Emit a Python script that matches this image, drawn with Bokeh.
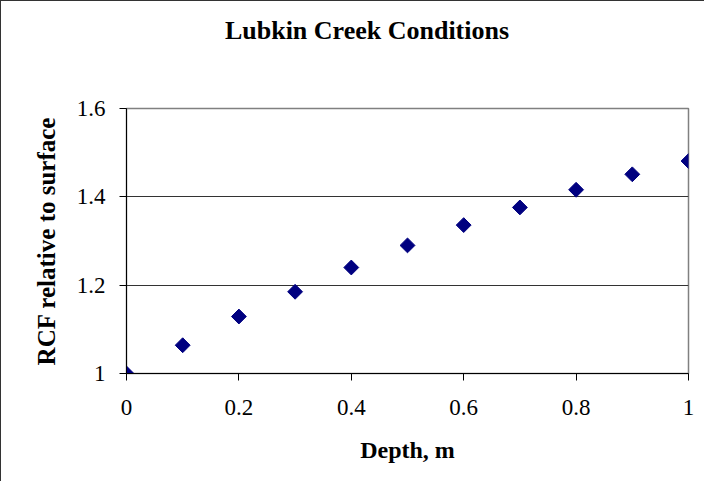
import math
from bokeh.plotting import figure
from bokeh.models import Range1d, FixedTicker, Div
from bokeh.layouts import column
from bokeh.embed import file_html
from bokeh.resources import INLINE

# Data
depth = [0.0, 0.1, 0.2, 0.3, 0.4, 0.5, 0.6, 0.7, 0.8, 0.9, 1.0]
rcf = [1.000, 1.064, 1.129, 1.185, 1.240, 1.290, 1.336, 1.376, 1.416, 1.451, 1.481]

x_ticks = [0.0, 0.2, 0.4, 0.6, 0.8, 1.0]
x_tick_labels = ["0", "0.2", "0.4", "0.6", "0.8", "1"]
y_ticks = [1.0, 1.2, 1.4, 1.6]
y_tick_labels = ["1", "1.2", "1.4", "1.6"]

title_text = "Lubkin Creek Conditions"
x_label = "Depth, m"
y_label = "RCF relative to surface"

FONT = "Liberation Serif"

title_div = Div(text=title_text, width=704, height=60, margin=0,
                styles={"font-family": FONT, "font-weight": "bold",
                        "font-size": "26px", "line-height": "26px",
                        "color": "#000000", "text-align": "center",
                        "padding-left": "30px", "padding-top": "18px",
                        "box-sizing": "border-box"})

p = figure(width=704, height=421, output_backend="svg", toolbar_location=None,
           x_range=Range1d(0, 1), y_range=Range1d(1.0, 1.6),
           min_border_left=126, min_border_right=16,
           min_border_top=48, min_border_bottom=108, margin=0)

p.border_fill_color = None
p.background_fill_color = "white"

p.outline_line_color = "#808080"
p.outline_line_width = 1.5

p.xgrid.visible = False
p.ygrid.ticker = FixedTicker(ticks=y_ticks)
p.ygrid.grid_line_color = "#333333"
p.ygrid.grid_line_width = 1

p.xaxis.ticker = FixedTicker(ticks=x_ticks)
p.yaxis.ticker = FixedTicker(ticks=y_ticks)
p.xaxis.major_label_overrides = {t: l for t, l in zip(x_ticks, x_tick_labels)}
p.yaxis.major_label_overrides = {t: l for t, l in zip(y_ticks, y_tick_labels)}

for ax in (p.xaxis[0], p.yaxis[0]):
    ax.axis_line_color = "#000000"
    ax.axis_line_width = 1
    ax.major_tick_line_color = "#000000"
    ax.major_tick_out = 7
    ax.major_tick_in = 0
    ax.minor_tick_line_color = None
    ax.major_label_text_font = FONT
    ax.major_label_text_font_size = "23px"
    ax.major_label_text_color = "#000000"
    ax.axis_label_text_font = FONT
    ax.axis_label_text_font_style = "bold"
    ax.axis_label_text_color = "#000000"

p.xaxis.axis_label = x_label
p.yaxis.axis_label = y_label
p.xaxis.axis_label_text_font_size = "24px"
p.yaxis.axis_label_text_font_size = "25px"
p.xaxis.major_label_standoff = 19
p.yaxis.major_label_standoff = 14
p.xaxis.axis_label_standoff = 19
p.yaxis.axis_label_standoff = 14

p.scatter(depth, rcf, marker="square", angle=math.pi / 4, size=10.5,
          fill_color="#000080", line_color="#000080")

layout = column(title_div, p, spacing=0,
                styles={"box-shadow": "inset 1px 1px 0 0 #333333",
                        "background-color": "white"})

open("out.html", "w").write(file_html(layout, INLINE))
